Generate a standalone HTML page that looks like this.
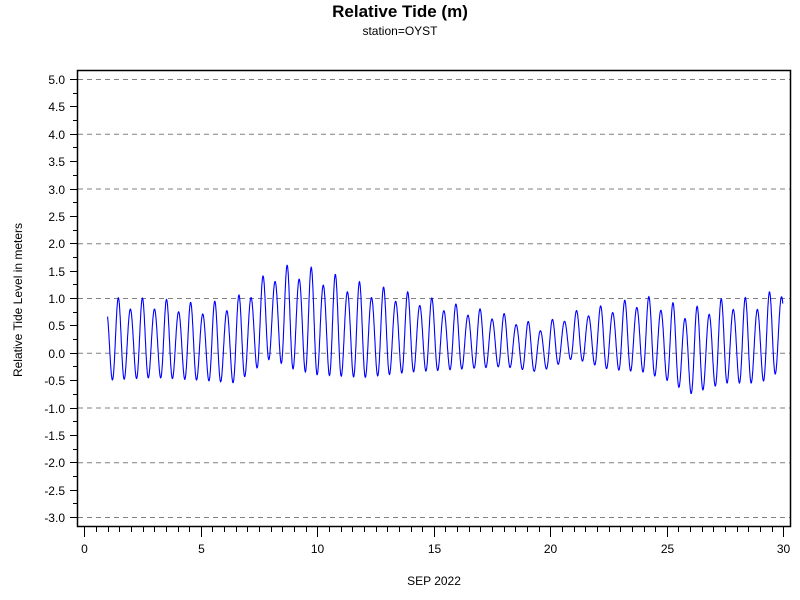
<!DOCTYPE html>
<html><head><meta charset="utf-8"><style>
body{margin:0;background:#fff;}
svg{display:block;font-family:"Liberation Sans",sans-serif;}
</style></head><body>
<svg id="s" width="800" height="600" xmlns="http://www.w3.org/2000/svg">
<text x="400" y="17" text-anchor="middle" font-size="17" font-weight="bold">Relative Tide (m)</text>
<text x="400" y="35" text-anchor="middle" font-size="12">station=OYST</text>
<text x="434" y="585" text-anchor="middle" font-size="12">SEP 2022</text>
<text transform="translate(22,300) rotate(-90)" text-anchor="middle" font-size="12">Relative Tide Level in meters</text>
<g id="grid"></g>
<rect x="77.5" y="70.5" width="713" height="456" fill="none" stroke="#000" stroke-width="1.5"/>
<g id="ax"></g>
<polyline id="ln" fill="none" stroke="#0000ff" stroke-width="1.1"/>
</svg>
<script>
var NS="http://www.w3.org/2000/svg";
function el(p,t,a,txt){var e=document.createElementNS(NS,t);for(var k in a)e.setAttribute(k,a[k]);if(txt!=null)e.textContent=txt;p.appendChild(e);return e;}
var Y=function(v){return 352.75-v*54.75;},X=function(d){return 84.3+d*23.3;};
var g=document.getElementById('grid'),ax=document.getElementById('ax');
for(var v=-3;v<=5;v++){el(g,'line',{x1:78,x2:790,y1:Y(v)+0.5,y2:Y(v)+0.5,stroke:'#808080','stroke-dasharray':'5,4'});}
for(var i=-12;i<=20;i++){var v=i*0.25,y=Math.round(Y(v))+0.5,maj=(i%2==0);
el(ax,'line',{x1:maj?70:73,x2:77,y1:y,y2:y,stroke:'#000'});
if(maj)el(ax,'text',{x:65,y:y+4.5,'text-anchor':'end','font-size':12},v.toFixed(1));}
for(var i=0;i<=60;i++){var d=i*0.5,x=Math.round(X(d))+0.5,maj=(i%10==0);
el(ax,'line',{x1:x,x2:x,y1:527,y2:maj?537:532,stroke:'#000'});
if(maj)el(ax,'text',{x:x,y:553,'text-anchor':'middle','font-size':12},String(d));}
var env=[[1,0.9,-0.5],[3,0.9,-0.45],[5,0.8,-0.5],[6.5,0.9,-0.55],[8,1.4,-0.1],[9,1.5,-0.3],[10,1.4,-0.4],[12,1.15,-0.45],[14,1.0,-0.35],[16,0.8,-0.3],[18,0.65,-0.25],[19.5,0.45,-0.35],[21,0.7,-0.1],[22.5,0.8,-0.3],[24,0.95,-0.35],[25,0.85,-0.5],[26,0.7,-0.75],[27.5,0.9,-0.55],[29,0.9,-0.55],[30,1.15,-0.3]];
function ip(t,k){if(t<=env[0][0])return env[0][k];for(var i=1;i<env.length;i++){if(t<=env[i][0]){var a=env[i-1],b=env[i],f=(t-a[0])/(b[0]-a[0]);return a[k]+(b[k]-a[k])*f;}}return env[env.length-1][k];}
var P=0.5175,t0=1.46,pts=[];
for(var t=1.0;t<=29.99;t+=0.01){var h=ip(t,1),l=ip(t,2),m=(h+l)/2,a=(h-l)/2;
var dd=1+0.15*Math.cos(Math.PI*(t-t0)/P);
var v=m+a*dd*Math.cos(2*Math.PI*(t-t0)/P);
pts.push(X(t).toFixed(1)+','+Y(v).toFixed(1));}
document.getElementById('ln').setAttribute('points',pts.join(' '));
</script>
</body></html>
